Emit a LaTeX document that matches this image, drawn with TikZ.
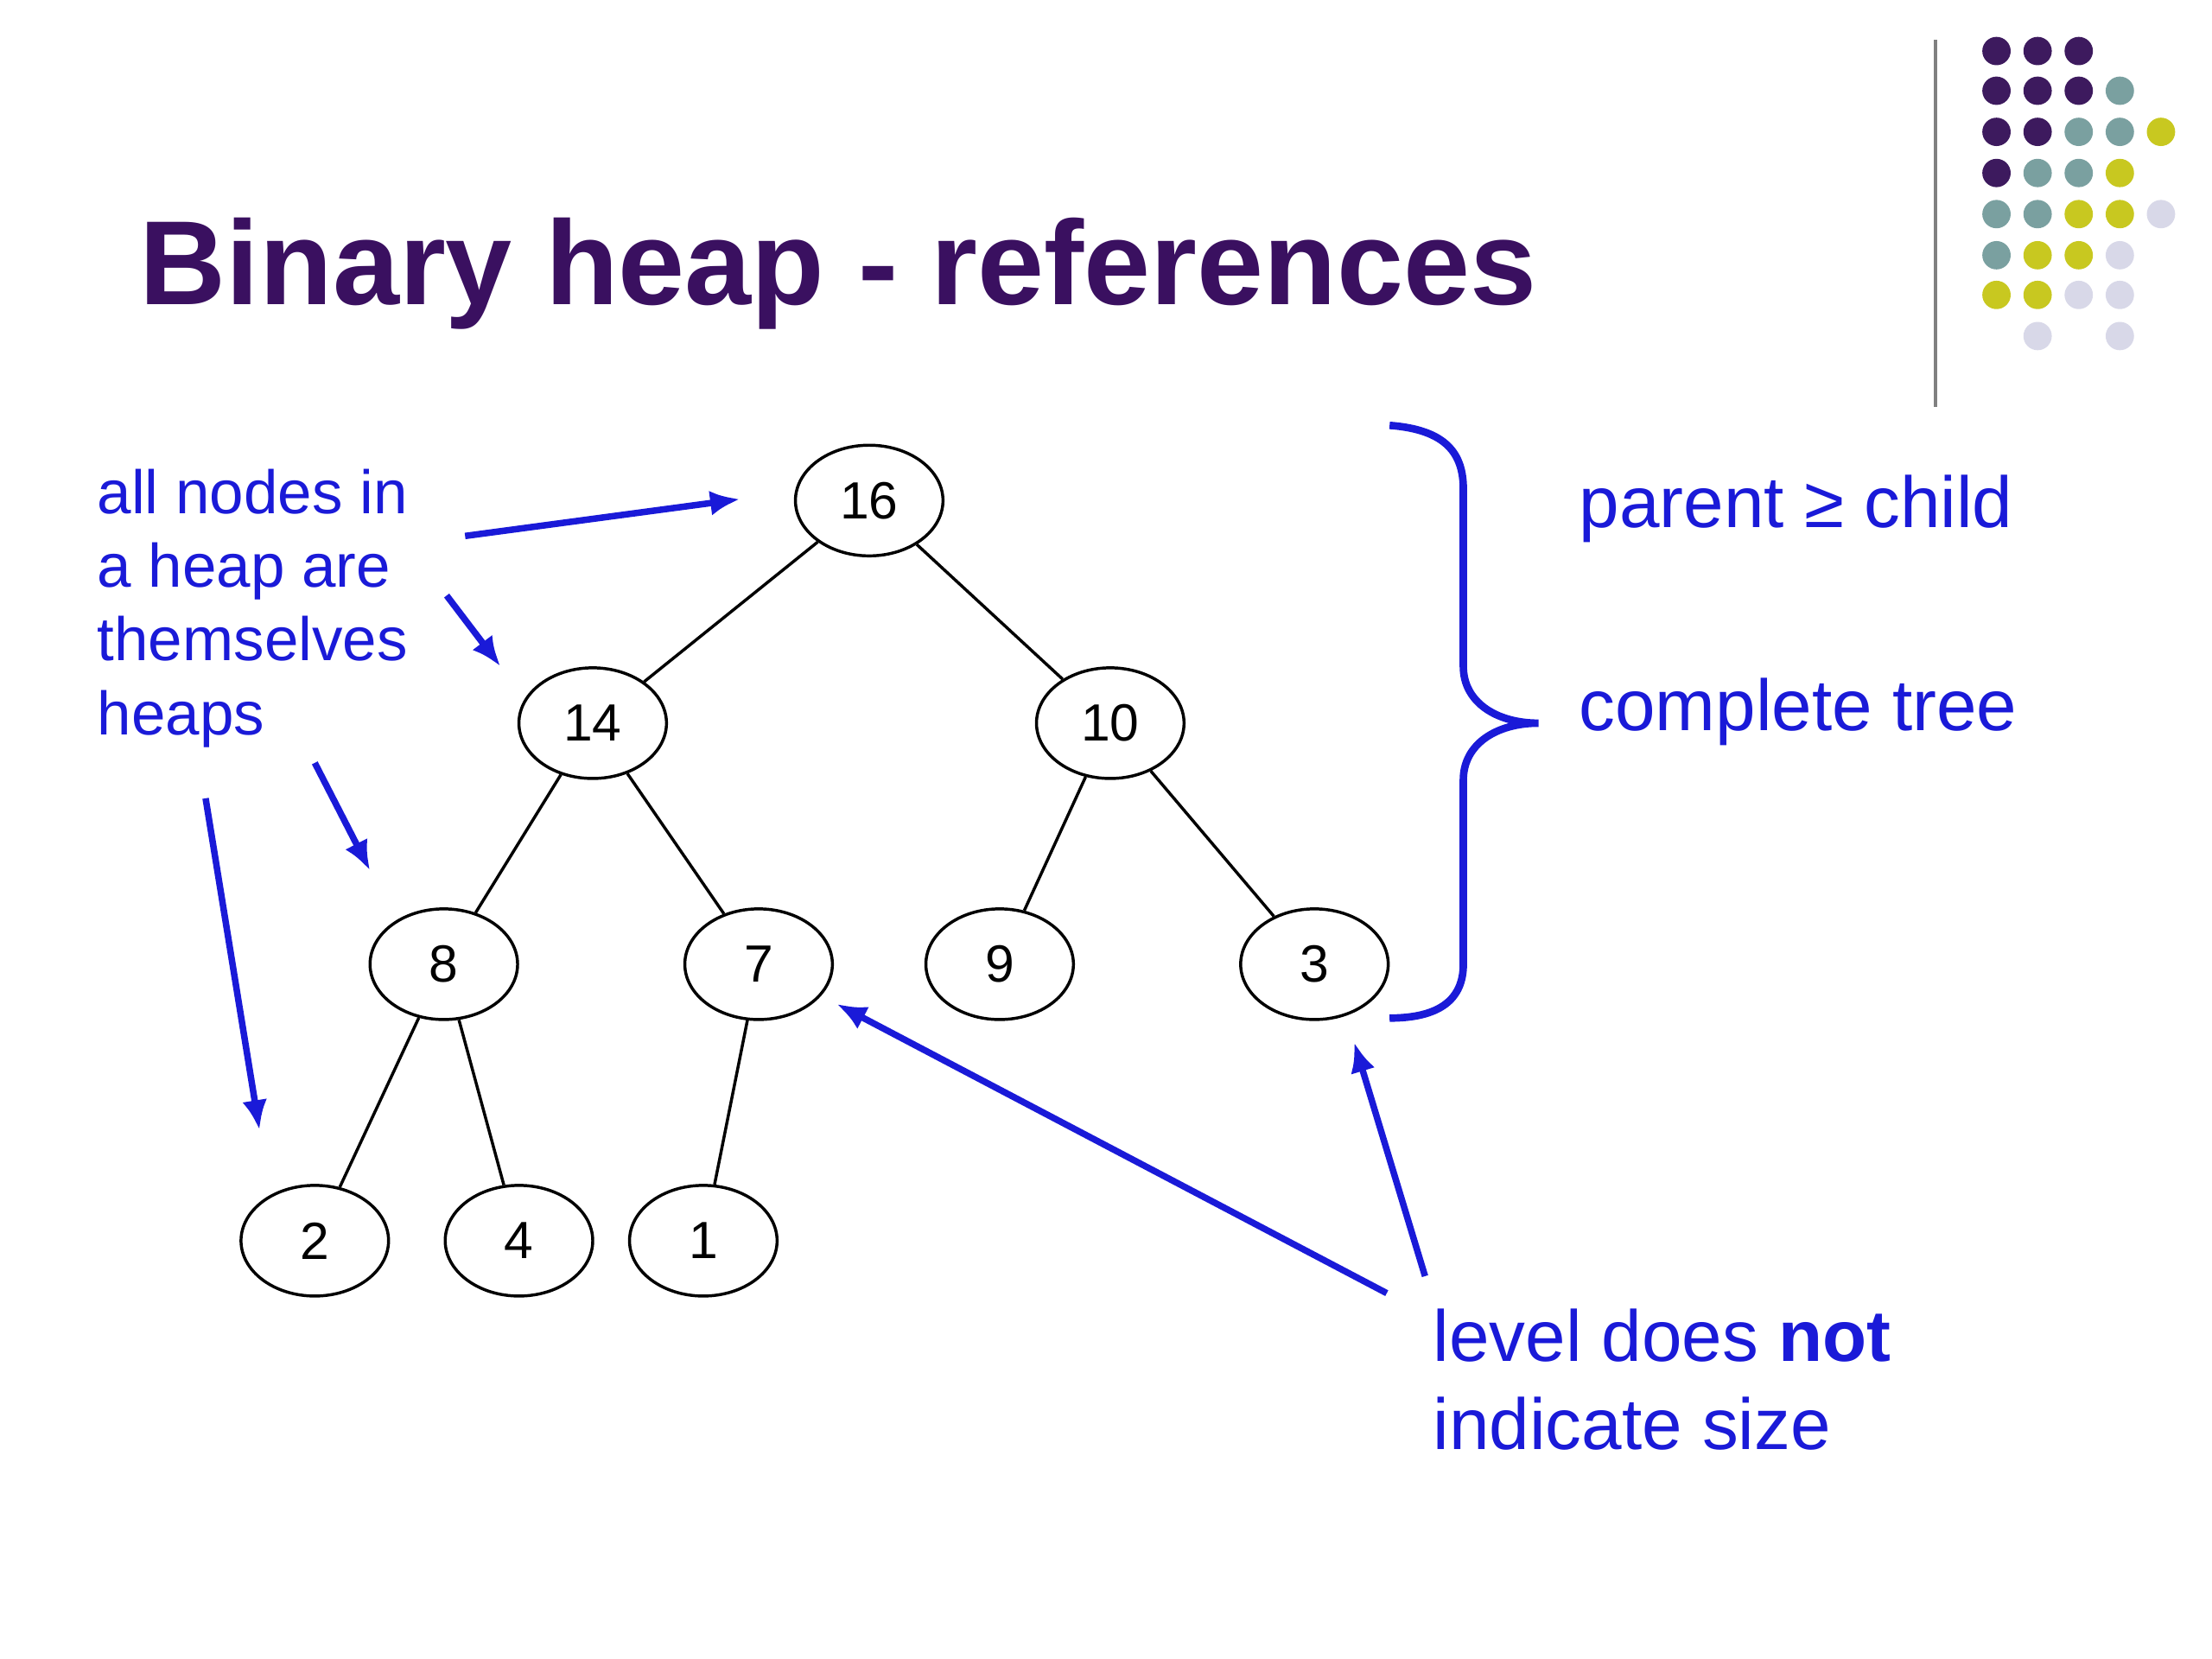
\documentclass[tikz,border=0pt]{standalone}
\usepackage{fontspec}
\setmainfont{Liberation Sans}
\definecolor{ttl}{HTML}{3A1060}
\definecolor{blu}{HTML}{1A1AD8}
\definecolor{dP}{HTML}{3D1A5E}
\definecolor{dT}{HTML}{7AA0A0}
\definecolor{dY}{HTML}{C8C820}
\definecolor{dL}{HTML}{D8D8E8}
\begin{document}
\begin{tikzpicture}[x=0.01cm,y=-0.01cm,
  hn/.style={draw,ellipse,minimum width=1.04cm,minimum height=0.78cm,inner sep=0pt,font=\fontsize{10.5pt}{12pt}\selectfont,line width=0.6pt},
  edge/.style={line width=0.6pt},
  barrow/.style={blu,line width=1.3pt,-{Latex[length=6pt,width=5pt]}},
  lt/.style={anchor=base west,inner sep=0pt,text=blu,font=\fontsize{12.3pt}{14pt}\selectfont},
  rt/.style={anchor=base west,inner sep=0pt,text=blu,font=\fontsize{14.5pt}{17pt}\selectfont}]
\usetikzlibrary{shapes.geometric,arrows.meta}
\useasboundingbox (0,0) rectangle (1560,1170);
\node[anchor=base west,inner sep=0pt,text=ttl,font=\fontsize{24pt}{28pt}\selectfont\bfseries] (title) at (98,215) {Binary heap - references};
\draw[gray,line width=0.6pt] (1365,28) coordinate (v1) -- (1365,287) coordinate (v2);
% dots
\foreach \r/\cols in {36/{0/dP,1/dP,2/dP},64/{0/dP,1/dP,2/dP,3/dT},93/{0/dP,1/dP,2/dT,3/dT,4/dY},122/{0/dP,1/dT,2/dT,3/dY},151/{0/dT,1/dT,2/dY,3/dY,4/dL},180/{0/dT,1/dY,2/dY,3/dL},208/{0/dY,1/dY,2/dL,3/dL},237/{1/dL,3/dL}}{
  \foreach \c/\col in \cols { \fill[\col] (1408+29*\c,\r) circle (10); }
}
\node[hn] (n16) at (613,353) {16};
\node[hn] (n14) at (418,510) {14};
\node[hn] (n10) at (783,510) {10};
\node[hn] (n8) at (313,680) {8};
\node[hn] (n7) at (535,680) {7};
\node[hn] (n9) at (705,680) {9};
\node[hn] (n3) at (927,680) {3};
\node[hn] (n2) at (222,875) {2};
\node[hn] (n4) at (366,875) {4};
\node[hn] (n1) at (496,875) {1};
\draw[edge] (n16)--(n14); \draw[edge] (n16)--(n10);
\draw[edge] (n14)--(n8); \draw[edge] (n14)--(n7);
\draw[edge] (n10)--(n9); \draw[edge] (n10)--(n3);
\draw[edge] (n8)--(n2); \draw[edge] (n8)--(n4); \draw[edge] (n7)--(n1);
\node[lt] (l1) at (68,362) {all nodes in};
\node[lt] (l2) at (68,414) {a heap are};
\node[lt] (l3) at (68,466) {themselves};
\node[lt] (l4) at (68,518) {heaps};
\coordinate (a1) at (328,378); \coordinate (b1) at (522,352);
\coordinate (a2) at (315,420); \coordinate (b2) at (353,470);
\coordinate (a3) at (222,538); \coordinate (b3) at (261,614);
\coordinate (a4) at (145,563); \coordinate (b4) at (183,797);
\draw[barrow] (a1)--(b1); \draw[barrow] (a2)--(b2);
\draw[barrow] (a3)--(b3); \draw[barrow] (a4)--(b4);
\draw[blu,line width=1.5pt] (980,300) .. controls (1020,303) and (1032,320) .. (1032,345) -- (1032,470) .. controls (1032,495) and (1055,510) .. (1085,510) .. controls (1055,510) and (1032,525) .. (1032,550) -- (1032,680) .. controls (1032,705) and (1015,718) .. (980,718);
\node[rt] (p1) at (1113,372) {parent ≥ child};
\node[rt] (p2) at (1113,515) {complete tree};
\node[rt] (p3) at (1010,960) {level does \textbf{not}};
\node[rt] (p4) at (1010,1022) {indicate size};
\coordinate (a5) at (978,912); \coordinate (b5) at (590,708);
\coordinate (a6) at (1005,900); \coordinate (b6) at (955,735);
\draw[barrow] (a5)--(b5); \draw[barrow] (a6)--(b6);
\end{tikzpicture}
\end{document}
